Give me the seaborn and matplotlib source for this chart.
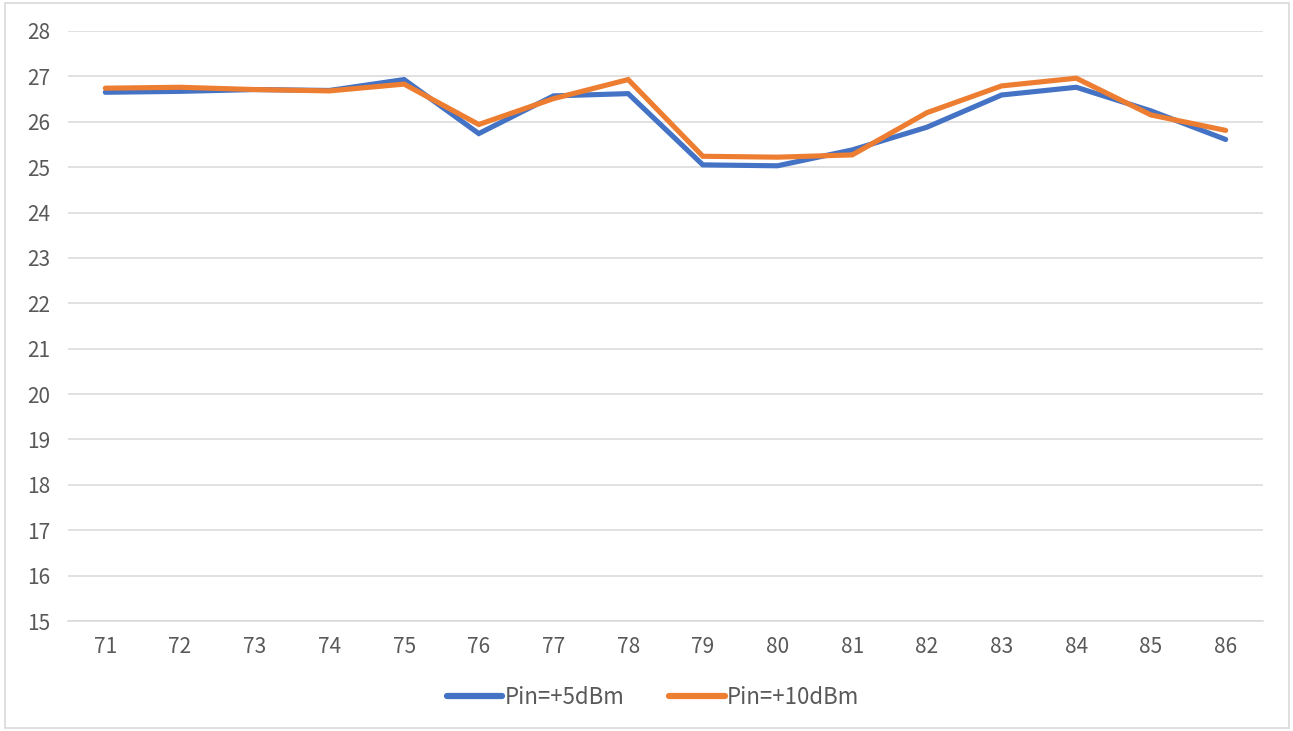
import numpy as np
import pandas as pd
import matplotlib
matplotlib.use("Agg")
import matplotlib.pyplot as plt
import seaborn as sns
from matplotlib.patches import Rectangle

categories = [71, 72, 73, 74, 75, 76, 77, 78, 79, 80, 81, 82, 83, 84, 85, 86]
pin5 = [26.65, 26.67, 26.71, 26.69, 26.93, 25.74, 26.57, 26.62, 25.05, 25.03, 25.38, 25.88, 26.59, 26.76, 26.24, 25.61]
pin10 = [26.74, 26.76, 26.71, 26.68, 26.83, 25.94, 26.51, 26.93, 25.24, 25.22, 25.27, 26.20, 26.79, 26.96, 26.15, 25.81]
series_names = ["Pin=+5dBm", "Pin=+10dBm"]
yticks = list(range(15, 29))

df = pd.DataFrame({
    "cat": list(range(len(categories))) * 2,
    "value": pin5 + pin10,
    "series": [series_names[0]] * len(categories) + [series_names[1]] * len(categories),
})

sns.set_theme(style="white")
plt.rcParams['font.family'] = ['Noto Sans CJK SC', 'DejaVu Sans']

fig = plt.figure(figsize=(12.93, 7.31), dpi=100)
ax = fig.add_axes([68/1293, 110/731, (1263-68)/1293, (621-31)/731])

sns.lineplot(data=df, x="cat", y="value", hue="series",
             palette=["#4472C4", "#ED7D31"], linewidth=3.7, ax=ax,
             legend=True, solid_capstyle="round", solid_joinstyle="miter")

ax.set_xlim(-0.5, len(categories) - 0.5)
ax.set_ylim(15, 28)
ax.set_yticks(yticks)
ax.set_yticklabels([str(v) for v in yticks])
ax.set_xticks(range(len(categories)))
ax.set_xticklabels([str(c) for c in categories])
ax.set_xlabel("")
ax.set_ylabel("")
ax.grid(axis="y", color="#D9D9D9", linewidth=1.1)
ax.set_axisbelow(True)
for s in ["top", "right", "left"]:
    ax.spines[s].set_visible(False)
ax.spines["bottom"].set_color("#D9D9D9")
ax.spines["bottom"].set_linewidth(1.1)
ax.tick_params(axis="both", length=0, labelsize=15, labelcolor="#595959")
ax.tick_params(axis="y", pad=13)
ax.tick_params(axis="x", pad=11)

handles, labels = ax.get_legend_handles_labels()
leg = ax.legend(handles, labels, loc="center", bbox_to_anchor=(653/1293, (731-697)/731),
                bbox_transform=fig.transFigure, ncol=2, frameon=False,
                fontsize=16, labelcolor="#595959", handlelength=2.5,
                handletextpad=0.1, columnspacing=2.0)
for line in leg.get_lines():
    line.set_linewidth(4.5)
    line.set_solid_capstyle("round")

fig.patches.append(Rectangle((5/1293, 3/731), (1289-5)/1293, (728-3)/731,
                             transform=fig.transFigure, fill=False,
                             edgecolor="#D9D9D9", linewidth=1.2))

fig.savefig("out.png", dpi=100)
